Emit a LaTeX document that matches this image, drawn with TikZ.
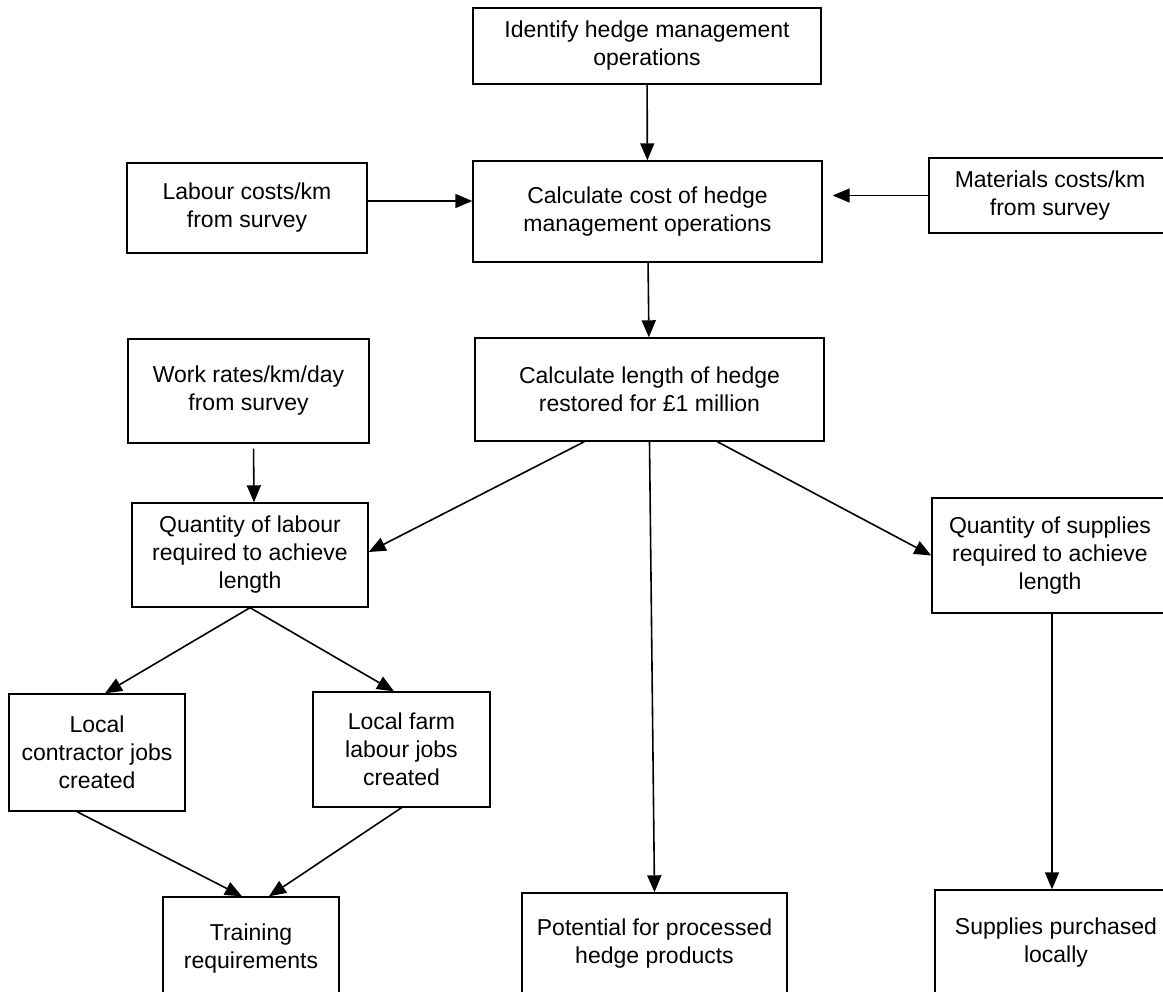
\documentclass[tikz,border=0pt]{standalone}
\usepackage{fontspec}
\setmainfont{Liberation Sans}
\usetikzlibrary{arrows.meta}
\tikzset{
  box/.style={draw, line width=1.4pt, inner sep=0pt, align=center,
    font=\fontsize{23}{28}\selectfont},
  arr/.style={line width=1.6pt, -{Triangle[length=17pt,width=14pt]}},
}
\begin{document}
\begin{tikzpicture}[x=1pt,y=-1pt]
\useasboundingbox (0,0) rectangle (1163,992);
\node[box, minimum width=348pt, minimum height=76pt] (ident) at (647,46) {Identify hedge management\\operations};
\node[box, minimum width=349pt, minimum height=101pt] (cost) at (647.5,211.5) {Calculate cost of hedge\\management operations};
\node[box, minimum width=240pt, minimum height=90pt] (labour) at (247,208) {Labour costs/km\\from survey};
\node[box, minimum width=242pt, minimum height=75pt] (mater) at (1050,195.5) {Materials costs/km\\from survey};
\node[box, minimum width=349pt, minimum height=103pt] (length) at (649.5,389.5) {Calculate length of hedge\\restored for £1 million};
\node[box, minimum width=241pt, minimum height=104pt] (work) at (248.5,391) {Work rates/km/day\\from survey};
\node[box, minimum width=236pt, minimum height=104pt] (qlab) at (250,555) {Quantity of labour\\required to achieve\\length};
\node[box, minimum width=236pt, minimum height=115pt] (qsup) at (1050,555.5) {Quantity of supplies\\required to achieve\\length};
\node[box, minimum width=176pt, minimum height=117pt] (contr) at (97,752.5) {Local\\contractor jobs\\created};
\node[box, minimum width=177pt, minimum height=115pt] (farm) at (401.5,749.5) {Local farm\\labour jobs\\created};
\node[box, minimum width=176pt, minimum height=103pt] (train) at (251,948.5) {Training\\requirements};
\node[box, minimum width=265pt, minimum height=102pt] (pot) at (654.5,944) {Potential for processed\\hedge products};
\node[box, minimum width=242pt, minimum height=105pt] (supp) at (1056,942.5) {Supplies purchased\\locally};

\coordinate (la) at ([yshift=7pt]labour.east);
\draw[arr] (ident) -- (cost);
\draw[arr] (la) -- (la -| cost.west);
\draw[arr, shorten >=10pt] (mater.west) -- (mater.west -| cost.east);
\draw[arr] (cost) -- (length);
\draw[arr, shorten <=5pt] ([xshift=5pt]work.south) -- ([xshift=4pt]qlab.north);
\draw[arr] ([xshift=110pt]length.south west) -- ([yshift=3pt]qlab.east);
\draw[arr] (length.south) -- (pot.north);
\draw[arr] ([xshift=243pt]length.south west) -- (qsup.west);
\coordinate (qs) at ([xshift=2pt]qsup.south);
\draw[arr] (qs) -- (qs |- supp.north);
\draw[arr] (qlab.south) -- ([xshift=8pt]contr.north);
\draw[arr] (qlab.south) -- ([xshift=-7.5pt]farm.north);
\draw[arr] ([xshift=-20pt]contr.south) -- ([xshift=-9pt]train.north);
\draw[arr] (farm.south) -- ([xshift=18pt]train.north);
\end{tikzpicture}
\end{document}
